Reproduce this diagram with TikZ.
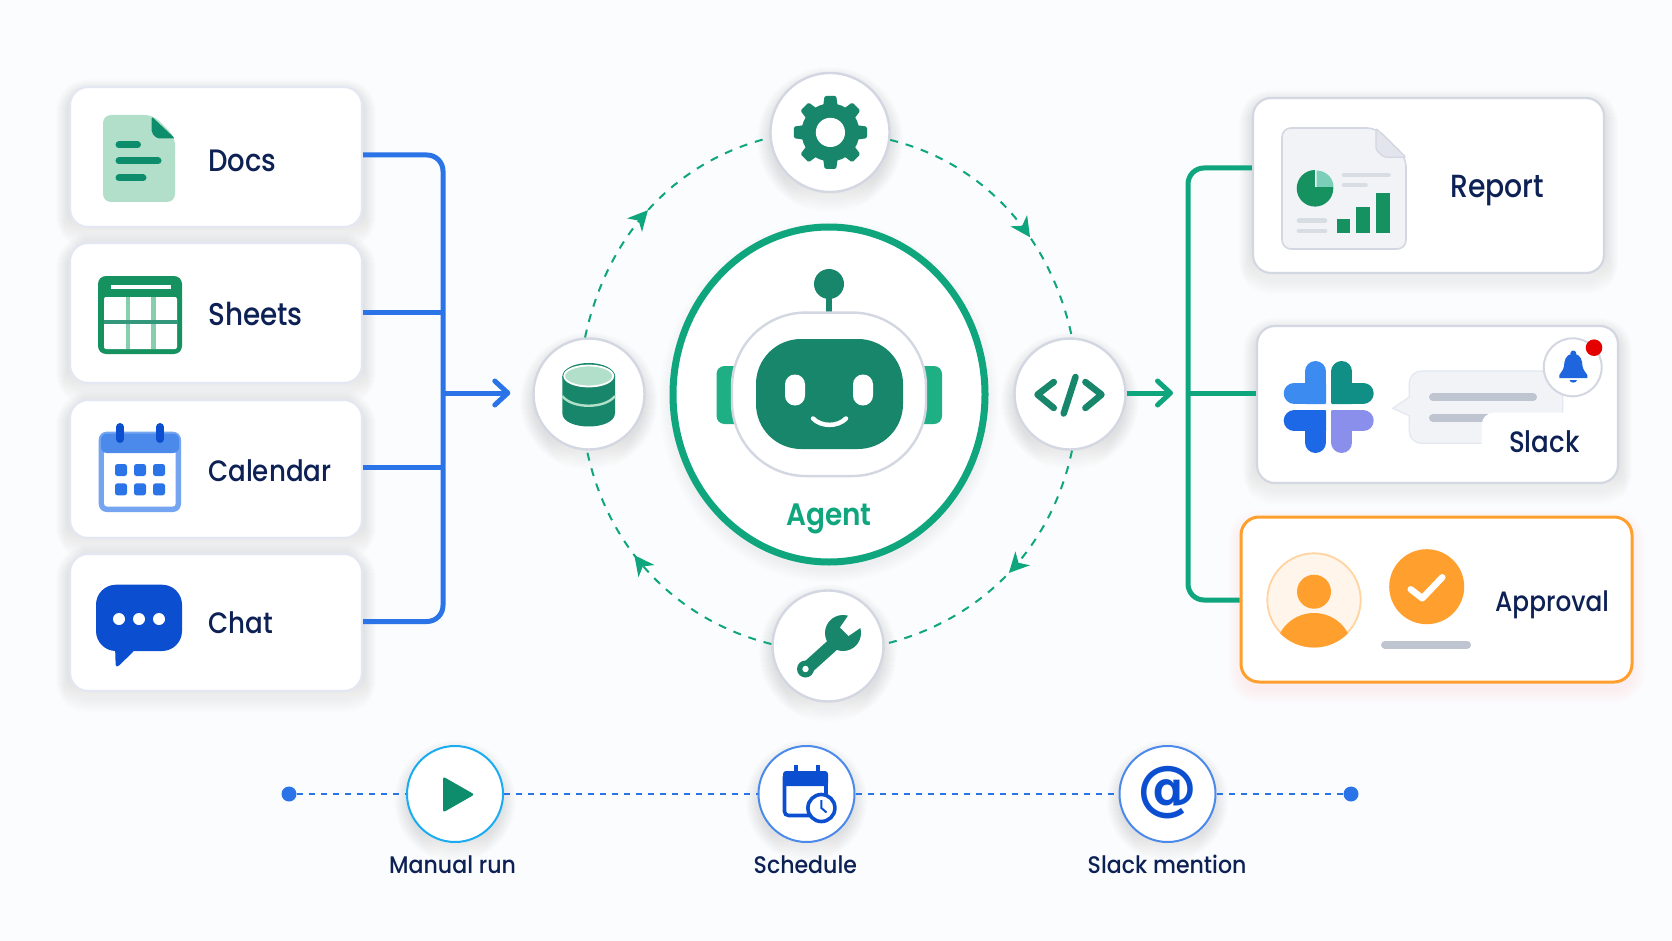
\documentclass[tikz,border=0pt]{standalone}
\usepackage{fontspec}
\setmainfont{Poppins}[UprightFont=* Medium]
\newfontfamily\lblfont{Poppins}[UprightFont=* Medium,FakeStretch=0.885]
\newfontfamily\smallfont{Poppins}[UprightFont=* Medium,FakeStretch=0.92]
\newfontfamily\agentfont{Poppins}[UprightFont=* SemiBold,FakeStretch=0.9]
\newfontfamily\symfont{DejaVu Sans Bold}
\usetikzlibrary{arrows.meta,shapes.geometric,decorations.markings}
\definecolor{bgc}{HTML}{FBFCFE}
\definecolor{navy}{HTML}{0D2155}
\definecolor{busblue}{HTML}{2B74E8}
\definecolor{ringgreen}{HTML}{0FA67E}
\definecolor{icongreen}{HTML}{17866A}
\definecolor{earg}{HTML}{1FAF85}
\definecolor{palegreen}{HTML}{B2DFC9}
\definecolor{mintline}{HTML}{86CFAE}
\definecolor{cardedge}{HTML}{E3E7F1}
\definecolor{edgegray}{HTML}{D3D7E2}
\definecolor{shade}{HTML}{6F82B0}
\definecolor{orangec}{HTML}{FF9F2E}
\definecolor{deepblue}{HTML}{0B4FD0}
\definecolor{grayline}{HTML}{BEC4D0}
\definecolor{lightline}{HTML}{D8DCE3}
\definecolor{bubblefill}{HTML}{F1F3F7}
\definecolor{slackA}{HTML}{3B8BF0}
\definecolor{slackB}{HTML}{0F8F86}
\definecolor{slackC}{HTML}{1C68E6}
\definecolor{slackD}{HTML}{8A8FEB}
\tikzset{
  card/.style={rectangle,rounded corners=18pt,fill=white,draw=cardedge,line width=2.2pt,inner sep=0pt},
  cardb/.style={card,draw=edgegray},
  disc/.style={circle,fill=white,draw=edgegray,line width=2.4pt,inner sep=0pt},
  lbl/.style={anchor=base west,inner sep=0pt,text=navy},
  biglbl/.style={lbl,font=\lblfont\fontsize{29.5}{34}\selectfont},
  smalllbl/.style={lbl,font=\smallfont\fontsize{24}{28}\selectfont},
  bus/.style={draw=busblue,line width=5pt},
  gbus/.style={draw=ringgreen,line width=5pt},
  barb/.style={-{Straight Barb[length=13pt,width=24pt,round]}},
  ring/.style={draw=ringgreen,line width=2pt,dash pattern=on 8pt off 8pt},
  ringarrow/.style={decoration={markings,mark=at position #1 with {\arrow{Stealth[length=20pt,width=20pt,inset=6pt,color=ringgreen,fill=ringgreen]}}},postaction={decorate}},
  dotline/.style={draw=busblue,line width=2pt,dash pattern=on 6pt off 6pt},
  trig/.style={circle,fill=white,line width=2pt,inner sep=0pt,minimum size=96pt},
  enddot/.style={circle,fill=busblue,inner sep=0pt,minimum size=15pt},
  round bar/.style={line width=#1,line cap=round}
}
\newcommand{\softrect}[6]{\foreach \k in {1,...,14}{\pgfmathsetmacro{\rr}{#5+\k}\fill[#6,opacity=0.0035,rounded corners=\rr pt] (#1-\k,#2+6-\k) rectangle (#3+\k,#4+8+\k);}}
\newcommand{\softdisc}[5]{\foreach \k in {1,...,14}{\fill[#5,opacity=0.004] (#1,#2+7) ellipse [x radius=#3+\k,y radius=#4+\k];}}
\newcommand{\slackpiece}[1]{%
  \fill[#1,rounded corners=1pt] (-24,-24.5) rectangle (-2.5,-3);
  \draw[#1,line width=21pt,line cap=round] (-13.2,-35.5) -- (-13.2,-14);
  \draw[#1,line width=21pt,line cap=round] (-34.5,-13.8) -- (-14,-13.8);}
\begin{document}
\begin{tikzpicture}[x=1pt,y=-1pt]
\useasboundingbox (0,0) rectangle (1672,941);
\fill[bgc] (0,0) rectangle (1672,941);

% shadows
\softrect{70}{87}{362}{227}{18}{shade}
\softrect{70}{243}{362}{383}{18}{shade}
\softrect{70}{400}{362}{538}{18}{shade}
\softrect{70}{554}{362}{691}{18}{shade}
\softrect{1253}{98}{1604}{273}{18}{shade}
\softrect{1257}{326}{1618}{483}{18}{shade}
\softrect{1241}{517}{1632}{682}{18}{orangec}
\softdisc{829}{394.5}{156}{167.5}{ringgreen}
\softdisc{830}{132.5}{59}{59}{shade}
\softdisc{589}{394}{55}{55}{shade}
\softdisc{1070}{394}{55}{55}{shade}
\softdisc{828}{646}{55}{55}{shade}
\softdisc{455}{794}{47}{47}{shade}
\softdisc{806.5}{794}{47}{47}{shade}
\softdisc{1167.5}{794}{47}{47}{shade}

% coordinates of the buses
\coordinate (bluejoin) at (443,393);
\coordinate (greenjoin) at (1188,393);

% cards
\node[card,minimum width=292pt,minimum height=140pt] (docs) at (216,157) {};
\node[card,minimum width=292pt,minimum height=140pt] (sheets) at (216,313) {};
\node[card,minimum width=292pt,minimum height=138pt] (calendar) at (216,469) {};
\node[card,minimum width=292pt,minimum height=137pt] (chat) at (216,622.5) {};
\node[cardb,minimum width=351pt,minimum height=175pt] (report) at (1428.5,185.5) {};
\node[cardb,minimum width=361pt,minimum height=157pt] (slack) at (1437.5,404.5) {};
\node[card,draw=orangec,line width=3pt,minimum width=391pt,minimum height=165pt] (approval) at (1436.5,599.5) {};

% central discs
\node[ellipse,fill=white,draw=ringgreen,line width=7pt,inner sep=0pt,minimum width=312pt,minimum height=335pt] (agent) at (829,394.5) {};
\node[disc,minimum size=119pt] (gear) at (830,132.5) {};
\node[disc,minimum size=111pt] (db) at (589,394) {};
\node[disc,minimum size=111pt] (code) at (1070,394) {};
\node[disc,minimum size=111pt] (wrench) at (828,646) {};

% left bus
\draw[bus,rounded corners=16pt] ([yshift=2pt]docs.east) -| (bluejoin) |- ([yshift=1pt]chat.east);
\draw[bus] ([yshift=1pt]sheets.east) -- ([yshift=1pt]sheets.east -| bluejoin);
\draw[bus] ([yshift=2pt]calendar.east) -- ([yshift=2pt]calendar.east -| bluejoin);
\draw[bus,barb] (bluejoin) -- ([xshift=-22pt,yshift=1pt]db.west);

% right bus
\draw[gbus,rounded corners=16pt] ([yshift=17.5pt]report.west) -| (greenjoin) |- ([yshift=-0.5pt]approval.west);
\draw[gbus] (slack.west |- greenjoin) -- (greenjoin);
\draw[gbus,barb] ([yshift=1pt]code.east) -- ([xshift=-15pt]greenjoin);

% ring
\draw[ring,ringarrow=.50] (db.94) to[out=78,in=194,looseness=.95] (gear.185);
\draw[ring,ringarrow=.615] (gear.-7) to[out=-14,in=102,looseness=.95] (code.88);
\draw[ring,ringarrow=.49] (code.-88) to[out=-102,in=14,looseness=.95] (wrench.2);
\draw[ring,ringarrow=.59] (wrench.178) to[out=166,in=-78,looseness=.95] (db.-92);

% labels
\node[biglbl,font=\lblfont\fontsize{31}{34}\selectfont] (ldocs) at (208,172) {Docs};
\node[biglbl,font=\lblfont\fontsize{31.5}{34}\selectfont] (lsheets) at (208,325) {Sheets};
\node[biglbl] (lcal) at (208,481) {Calendar};
\node[biglbl] (lchat) at (208,633.5) {Chat};
\node[biglbl,font=\lblfont\fontsize{32}{34}\selectfont] (lreport) at (1450,198) {Report};
\node[biglbl,font=\lblfont\fontsize{28}{34}\selectfont] (lapproval) at (1495,611) {Approval};
\node[lbl,text=ringgreen,font=\agentfont\fontsize{31}{34}\selectfont] (lagent) at (786,525) {Agent};

% docs icon
\fill[palegreen,rounded corners=8pt] (103,115) -- (153,115) -- (175,137) -- (175,202) -- (103,202) -- cycle;
\fill[ringgreen!85!black,rounded corners=2pt] (151.7,116.5) -- (175,138.5) -- (157,138.5) -- (151.7,133) -- cycle;
\draw[ringgreen!85!black,round bar=7pt] (119,145) -- (137.5,145);
\draw[ringgreen!85!black,round bar=7pt] (119,161) -- (158,161);
\draw[ringgreen!85!black,round bar=7pt] (119,178) -- (143,178);

% sheets icon
\fill[icongreen!90!green,rounded corners=8pt] (98,276) rectangle (182,354);
\fill[white,rounded corners=2pt] (104,297) rectangle (177,349);
\fill[white] (110.7,285) rectangle (170.7,289);
\fill[mintline] (125.5,297) rectangle (130,349);
\fill[mintline] (151,297) rectangle (155.5,349);
\fill[icongreen!75!mintline] (104,320) rectangle (177,324);

% calendar icon
\fill[busblue!65!white,rounded corners=8pt] (98.7,431.7) rectangle (181,512);
\fill[white,rounded corners=3pt] (104,450) rectangle (175.7,506.5);
\fill[busblue!85!white,rounded corners=6pt] (101,433.5) -- (179,433.5) -- (179,453) -- (101,453) -- cycle;
\draw[deepblue,round bar=8pt] (120,427) -- (120,439);
\draw[deepblue,round bar=8pt] (160,427) -- (160,439);
\foreach \cx in {121,140,159}{\foreach \cy in {470,489.3}{\fill[busblue,rounded corners=2.5pt] (\cx-6,\cy-6) rectangle (\cx+6,\cy+6);}}

% chat icon
\fill[deepblue,rounded corners=20pt] (96,584.7) rectangle (182,651);
\fill[deepblue,rounded corners=1.5pt] (115,645) -- (115.7,666.5) -- (118,666.5) -- (134,651) -- (134,645) -- cycle;
\foreach \cx in {119,139,159}{\fill[white] (\cx,619) circle [radius=6];}

% robot
\fill[earg,rounded corners=8pt] (716.5,366) rectangle (745,424);
\fill[earg,rounded corners=8pt] (913,366) rectangle (942,424);
\draw[icongreen,line width=6.5pt] (829,290) -- (829,314);
\fill[icongreen] (829,284) circle [radius=15];
\node[rectangle,rounded corners=74pt,fill=white,draw=edgegray,line width=2.4pt,inner sep=0pt,minimum width=194pt,minimum height=163.5pt] (head) at (829,394.3) {};
\node[rectangle,rounded corners=45pt,fill=icongreen,inner sep=0pt,minimum width=147pt,minimum height=110pt] (face) at (829.5,394) {};
\fill[white,rounded corners=9.9pt] (785,374.5) rectangle (805,405.5);
\fill[white,rounded corners=9.9pt] (853,374.5) rectangle (873,405.5);
\draw[white,round bar=4.5pt] (813,418.5) .. controls (821,427) and (838,427) .. (846,418.5);

% gear icon
\foreach \a in {0,45,...,315}{%
  \fill[icongreen,rotate around={\a:(830.4,132.4)},rounded corners=1.5pt] (822.9,108) -- (824.6,95.8) -- (836.2,95.8) -- (837.9,108) -- cycle;}
\fill[icongreen] (830.4,132.4) circle [radius=29];
\fill[white] (830.4,132.4) circle [radius=14.6];

% database icon
\fill[icongreen] (562.3,376) -- (562.3,413) .. controls (562.3,431) and (615,431) .. (615,413) -- (615,376) -- cycle;
\fill[icongreen] (588.7,376.5) ellipse [x radius=26.4,y radius=13.5];
\fill[palegreen,draw=white,line width=1.8pt] (588.7,376) ellipse [x radius=24.5,y radius=10.5];
\draw[palegreen,line width=2.4pt] (562.3,396) .. controls (572,409) and (605,409) .. (615,396);

% code icon
\draw[icongreen,line width=6.5pt,line cap=round,line join=round] (1053.8,382) -- (1037.5,394.6) -- (1053.8,408);
\draw[icongreen,line width=6.5pt,line cap=round,line join=round] (1085.4,382) -- (1101.5,394.6) -- (1085.4,408);
\draw[icongreen,line width=6.5pt,line cap=round] (1075.5,377) -- (1063.7,413.5);

% wrench icon
\fill[icongreen] (843,633) circle [radius=18];
\draw[icongreen,line width=13pt,line cap=round] (806,669) -- (837,641);
\fill[icongreen] (805.5,669) circle [radius=8.5];
\fill[white] (805.5,669) circle [radius=3.2];
\fill[white] (840,627.5) -- (848.5,636) -- (866,624) -- (852,610) -- cycle;

% report icon
\fill[bubblefill,draw=edgegray,line width=1.6pt,rounded corners=9pt] (1282,128) -- (1376,128) -- (1406,157.5) -- (1406,249) -- (1282,249) -- cycle;
\fill[edgegray!65!white,draw=edgegray,line width=1.2pt,rounded corners=2pt] (1376,128.3) -- (1406,157.3) -- (1384,157.3) -- (1376,150) -- cycle;
\fill[icongreen!90!green] (1315,188.3) circle [radius=18.3];
\fill[bubblefill] (1315,170) rectangle (1334,187);
\fill[ringgreen!55!white] (1316.5,170.5) .. controls (1325.5,170.5) and (1333.5,177.5) .. (1333.5,187) -- (1316.5,187) -- cycle;
\draw[lightline,line width=4.6pt,line cap=round] (1344,175) -- (1388.5,175);
\draw[lightline,line width=4.6pt,line cap=round] (1344,185) -- (1365.5,185);
\draw[lightline,line width=4.6pt,line cap=round] (1299,220.7) -- (1325,220.7);
\draw[lightline,line width=4.6pt,line cap=round] (1299,231) -- (1325,231);
\fill[icongreen!90!green] (1336.7,219.3) rectangle (1350.3,233.3);
\fill[icongreen!90!green] (1356,206.7) rectangle (1370,233.3);
\fill[icongreen!90!green] (1376,192.7) rectangle (1390,233.3);

% slack logo
\begin{scope}[shift={(1328.7,407)}]
\slackpiece{slackA}
\begin{scope}[xscale=-1]\slackpiece{slackB}\end{scope}
\begin{scope}[yscale=-1]\slackpiece{slackC}\end{scope}
\begin{scope}[xscale=-1,yscale=-1]\slackpiece{slackD}\end{scope}
\end{scope}

% slack bubble
\fill[bubblefill,draw=cardedge,line width=1.2pt,rounded corners=12pt] (1409.3,371) rectangle (1562.7,443.3);
\fill[bubblefill,draw=cardedge,line width=1.2pt] (1409.8,396.7) -- (1392.7,408.3) -- (1409.8,416);
\fill[bubblefill] (1408,398) rectangle (1411.5,415);
\draw[grayline,round bar=8pt] (1433,397.3) -- (1533,397.3);
\draw[grayline,round bar=8pt] (1433,418) -- (1500,418);
\fill[white,rounded corners=12pt] (1481.7,412.7) rectangle (1590,470);
\fill[white] (1540,412.7) rectangle (1590,430);
\node[biglbl] (lslack) at (1509,452.5) {Slack};

% bell
\node[disc,line width=2pt,minimum size=58pt] (bell) at (1572.7,367.3) {};
\fill[busblue!60!deepblue] (1573.3,354) .. controls (1565,354) and (1564.5,361) .. (1564,366) .. controls (1563.5,370) and (1561,372) .. (1559.3,375) -- (1559.3,378) -- (1587.3,378) -- (1587.3,375) .. controls (1585.5,372) and (1583,370) .. (1582.5,366) .. controls (1582,361) and (1581.5,354) .. (1573.3,354) -- cycle;
\fill[busblue!60!deepblue] (1573.3,353.5) circle [radius=3];
\fill[busblue!60!deepblue] (1569.5,380) .. controls (1570,383.5) and (1576.5,383.5) .. (1577,380) -- cycle;
\fill[red!90!black] (1594,347.7) circle [radius=8.3];

% approval icons
\fill[orangec!10!white,draw=orangec!45!white,line width=1.8pt] (1314,600) circle [radius=46.7];
\fill[orangec] (1314,591.7) circle [radius=17];
\begin{scope}
\clip (1314,600) circle [radius=47.5];
\fill[orangec] (1314,650) ellipse [x radius=38,y radius=37];
\end{scope}
\fill[orangec] (1426.7,586.7) circle [radius=37.5];
\draw[white,line width=6.5pt,line cap=round,line join=round] (1410.7,589.3) -- (1422.3,598.3) -- (1442.3,577.3);
\draw[grayline,round bar=8pt] (1385,644.7) -- (1467,644.7);

% trigger row
\node[trig,draw=busblue!60!cyan] (run) at (455,794) {};
\node[trig,draw=busblue!85!white] (schedule) at (806.5,794) {};
\node[trig,draw=busblue!85!white] (mention) at (1167.5,794) {};
\node[enddot] (startdot) at (289,794) {};
\node[enddot] (enddot) at (1351,794) {};
\draw[dotline] (startdot) -- (run);
\draw[dotline] (run) -- (schedule);
\draw[dotline] (schedule) -- (mention);
\draw[dotline] (mention) -- (enddot);
\node[smalllbl] (lrun) at (389,873.5) {Manual run};
\node[smalllbl] (lsched) at (753.5,873.5) {Schedule};
\node[smalllbl] (lmention) at (1087.5,873.5) {Slack mention};

% play icon
\fill[ringgreen!85!black,rounded corners=2.5pt] (443,776.5) -- (474.5,794.5) -- (443,812.5) -- cycle;

% schedule icon
\draw[deepblue,line width=3.6pt,rounded corners=4pt] (784.5,773) rectangle (826,815.5);
\fill[deepblue,rounded corners=3pt] (783,771) rectangle (828,786);
\draw[deepblue,line width=3.6pt] (796,765) -- (796,773);
\draw[deepblue,line width=3.6pt] (818,765) -- (818,773);
\fill[white,draw=deepblue,line width=3.6pt] (821.4,808) circle [radius=13.5];
\draw[deepblue,line width=2pt] (821.4,800) -- (821.4,808) -- (826.5,812.5);

% at sign
\node[inner sep=0pt,text=deepblue,font=\symfont\fontsize{60}{60}\selectfont] (atsign) at (1167.5,793) {@};
\end{tikzpicture}
\end{document}
